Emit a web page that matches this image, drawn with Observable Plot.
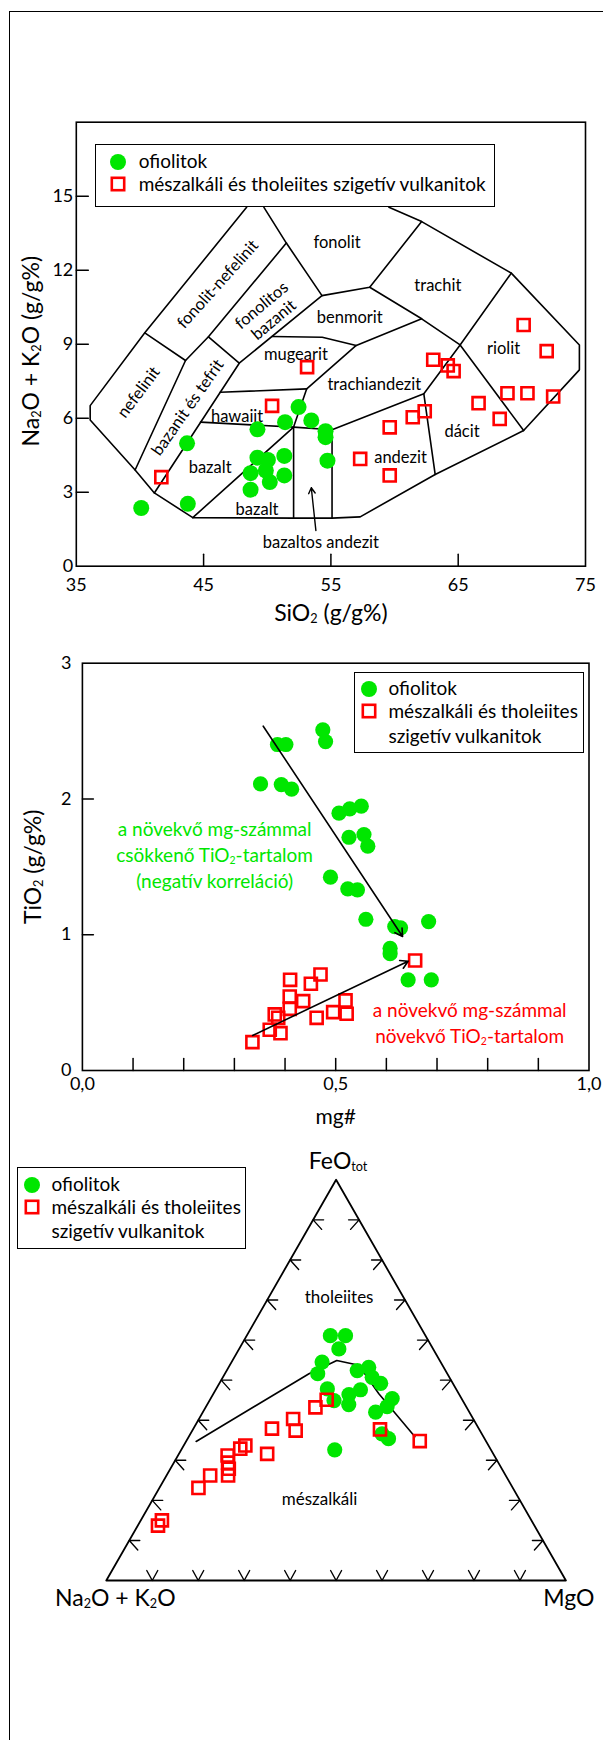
<!DOCTYPE html>
<html><head><meta charset="utf-8">
<script src="https://cdn.jsdelivr.net/npm/d3@7"></script>
<script src="https://cdn.jsdelivr.net/npm/@observablehq/plot@0.6"></script>
<style>
body{margin:0;background:#fff;font-family:Lato,"Open Sans",sans-serif;}
#page{position:relative;width:603px;height:1740px;overflow:hidden;background:#fff;}
#frame{position:absolute;left:9px;top:11px;width:640px;height:1760px;border-top:1.5px solid #000;border-left:1.5px solid #000;}
.panel{position:absolute;left:0;}
.legend{position:absolute;background:#fff;border:1.5px solid #000;box-sizing:border-box;font-size:19px;color:#000;}
.legend .t{position:absolute;white-space:nowrap;line-height:20px;height:20px;}
.legend svg{position:absolute;}
</style></head><body><div id="page"><div id="frame"></div></div>
<script>
// ================= DATA =================
// Panel 1 – TAS diagram (SiO2 vs Na2O+K2O)
const tasGreenSiO2 = [40.1, 43.76, 43.7, 49.23, 51.4, 52.46, 53.46, 54.58, 54.58, 54.73, 49.23, 50.05, 51.34, 48.69, 49.89, 50.2, 51.34, 48.69];
const tasGreenAlk  = [2.36, 2.53, 4.98, 5.55, 5.84, 6.45, 5.91, 5.47, 5.23, 4.28, 4.40, 4.31, 4.47, 3.77, 3.88, 3.41, 3.68, 3.10];
const tasRedSiO2 = [53.13, 63.04, 64.18, 64.64, 70.14, 71.95, 68.87, 70.44, 72.46, 66.6, 50.38, 68.26, 61.43, 62.37, 59.62, 57.3, 59.62, 41.68];
const tasRedAlk  = [8.07, 8.37, 8.14, 7.91, 9.78, 8.72, 7.01, 7.01, 6.88, 6.61, 6.5, 5.97, 6.04, 6.28, 5.63, 4.35, 3.68, 3.61];

const tasOuter = [[48.38,14.55],[40.38,9.46],[36.09,6.51],[36.09,5.93],[39.62,3.90],[41.13,2.97],[44.15,1.97],[52.07,1.95],[55.09,1.95],[57.3,2.0],[63.19,3.72],[70.14,5.5],[74.52,7.96],[74.52,8.97],[69.17,11.88],[62.13,13.97],[59.56,14.55]];
const tasNefelinitTop = [[40.38,9.46],[43.58,8.34]];
const tasNefelinitRight = [[39.62,3.90],[43.58,8.34],[45.38,9.3],[51.5,13.1]];
const tasFonolitLeft = [[49.74,14.55],[51.5,13.1],[54.3,10.97]];
const tasFonBazanitBottom = [[45.38,9.3],[47.8,8.23]];
const tasBazanitRight = [[41.13,2.97],[47.8,8.23],[54.3,10.97],[58.05,11.31],[62.13,13.97]];
const tasTrachitBottom = [[58.05,11.31],[62.13,10.03],[65.15,8.97]];
const tasRiolitTop = [[65.15,8.97],[69.17,11.88]];
const tasRiolitDacit = [[65.15,8.97],[70.14,5.5]];
const tasDacitLeft = [[65.15,8.97],[62.3,6.99],[63.19,3.72]];
const tasAndezitTop = [[55.09,5.53],[62.3,6.99]];
const tasTrachiandezitLeft = [[62.13,10.03],[56.99,8.95],[53.1,7.19],[52.07,5.64]];
const tasBenmoritBottom = [[50.38,9.31],[54.32,9.28],[56.99,8.95]];
const tasHawaiitTop = [[46.3,7.05],[53.1,7.19]];
const tasHawaiitBottom = [[44.76,5.84],[52.07,5.64],[55.09,5.53]];
const tasBazaltDiagonal = [[44.15,1.97],[52.07,5.64]];
const tasBazAndLeft = [[52.07,5.64],[52.07,1.95]];
const tasBazAndRight = [[55.09,5.53],[55.09,1.95]];

const tasFieldNames = ["nefelinit","bazanit és tefrit","fonolit-nefelinit","fonolitos\nbazanit","fonolit","trachit","benmorit","mugearit","trachiandezit","riolit","hawaiit","bazalt","bazalt","dácit","andezit","bazaltos andezit"];
const tasFieldSiO2 = [39.85, 43.71, 46.07, 50.0, 55.48, 63.4, 56.48, 52.25, 58.41, 68.56, 47.63, 45.51, 49.2, 65.3, 60.47, 54.21];
const tasFieldAlk  = [7.07, 6.45, 11.45, 10.3, 13.14, 11.42, 10.1, 8.61, 7.39, 8.84, 6.08, 4.01, 2.32, 5.5, 4.42, 1.0];
const tasFieldAngle = [-53, -55, -48, -40, 0, 0, 0, 0, 0, 0, 0, 0, 0, 0, 0, 0];
const tasArrow = {x1: 53.82, y1: 1.45, x2: 53.46, y2: 3.18};

const tasXTickLabels = [35, 45, 55, 65, 75];
const tasXTicks = [45, 55, 65];
const tasYTickLabels = [0, 3, 6, 9, 12, 15];
const tasYTicks = [3, 6, 9, 12, 15];
const tasXLabel = "SiO₂ (g/g%)";
const tasYLabel = "Na₂O + K₂O (g/g%)";

// Panel 2 – mg# vs TiO2
const mgGreen = [0.4746,0.480,0.385,0.4017,0.3516,0.3926,0.413,0.5065,0.5277,0.5505,0.5262,0.5558,0.5634,0.4897,0.5239,0.5429,0.5596,0.6166,0.628,0.6834,0.6074,0.6074,0.643,0.6887];
const tiGreen = [2.509,2.423,2.401,2.401,2.111,2.106,2.072,1.895,1.927,1.947,1.718,1.738,1.652,1.424,1.338,1.331,1.114,1.060,1.051,1.097,0.90,0.86,0.668,0.668];
const mgRed = [0.3356,0.3698,0.391,0.3797,0.3865,0.410,0.4093,0.4093,0.4358,0.451,0.470,0.4624,0.495,0.5194,0.5216,0.6568];
const tiRed = [0.209,0.300,0.275,0.413,0.388,0.668,0.545,0.454,0.511,0.639,0.707,0.388,0.430,0.516,0.418,0.810];
const mgArrows = [
  {x1: 0.357, y1: 2.536, x2: 0.632, y2: 0.987},
  {x1: 0.336, y1: 0.258, x2: 0.643, y2: 0.805}
];
const mgNotes = ["a növekvő mg-számmal\ncsökkenő TiO₂-tartalom\n(negatív korreláció)", "a növekvő mg-számmal\nnövekvő TiO₂-tartalom"];
const mgNoteX = [0.261, 0.7645];
const mgNoteY = [1.596, 0.358];
const mgXTickLabels = [0, 0.5, 1];
const mgXTicks = [0.1, 0.2, 0.3, 0.4, 0.5, 0.6, 0.7, 0.8, 0.9];
const mgYTickLabels = [0, 1, 2, 3];
const mgYTicks = [1, 2];
const mgXLabel = "mg#";
const mgYLabel = "TiO₂ (g/g%)";

// Panel 3 – AFM ternary (A = Na2O+K2O, F = FeOtot, M = MgO), %
const afmGreenA = [20.7,17.4,20.5,25.8,28.2,19.2,16.3,16.8,15.7,20.9,24.0,28.0,28.0,25.3,15.1,17.2,20.4,21.7,20.9,34.0];
const afmGreenF = [61.1,61.1,57.8,54.5,51.6,52.4,53.2,50.7,49.2,47.6,46.4,47.8,44.9,43.9,45.4,43.4,42.0,36.6,35.4,32.6];
const afmGreenM = [18.2,21.5,21.7,19.7,20.2,28.4,30.5,32.5,35.1,31.5,29.6,24.2,27.1,30.8,39.5,39.4,37.6,41.7,43.7,33.4];
const afmRedA = [29.5,32.9,39.2,40.1,45.0,49.2,52.9,54.4,21.6,14.4,58.0,58.8,59.4,60.4,64.3,68.4,80.4,81.9];
const afmRedF = [45.1,43.2,40.3,37.4,37.9,31.6,33.7,32.9,37.7,34.8,31.2,29.4,27.9,26.2,26.2,23.1,15.0,13.7];
const afmRedM = [25.4,23.9,20.5,22.5,17.1,19.2,13.4,12.7,40.7,50.8,10.8,11.8,12.7,13.4,9.5,8.5,4.6,4.4];
const afmBoundaryA = [63.1,30.1,22.4,18.2,17.4,14.9];
const afmBoundaryF = [34.7,51.6,54.9,53.7,46.6,35.9];
const afmBoundaryM = [2.2,18.3,22.7,28.1,36.0,49.2];
const afmCornerNames = ["Na₂O + K₂O", "FeO_tot", "MgO"];
const afmCornerA = [100, 0, 0];
const afmCornerF = [0, 100, 0];
const afmCornerM = [0, 0, 100];
const afmFieldNames = ["tholeiites", "mészalkáli"];
const afmFieldF = [70.7, 20.2];
const afmFieldM = [15.3, 36.3];
const afmTicks = [10, 20, 30, 40, 50, 60, 70, 80, 90];

const legendLabels = ["ofiolitok", "mészalkáli és tholeiites szigetív vulkanitok"];
const legendLines2 = ["mészalkáli és tholeiites", "szigetív vulkanitok"];

// ================= STYLE =================
const GREEN = "#00e600", RED = "#ff0000", INK = "#000";
const FONT = "Lato, 'Open Sans', sans-serif";
const lineShape = {draw(c, l) { c.moveTo(0, 0); c.lineTo(0, -l); }};
const vShape = {draw(c) { c.moveTo(-5.5, -10); c.lineTo(0, 0); c.lineTo(5.5, -10); }};
const leftShape = {draw(c) { c.moveTo(10.5, 0); c.lineTo(0, 0); c.lineTo(8.5, 9.5); }};
const rightShape = {draw(c) { c.moveTo(-10.5, 0); c.lineTo(0, 0); c.lineTo(-8.5, 9.5); }};

const page = document.getElementById("page");
function place(svg, top) {
  const d = document.createElement("div");
  d.className = "panel"; d.style.top = top + "px";
  d.appendChild(svg); page.appendChild(d);
}
const pts = (xs, ys) => xs.map((x, i) => ({x, y: ys[i]}));

// ================= PANEL 1 =================
const tasLines = [tasOuter, tasNefelinitTop, tasNefelinitRight, tasFonolitLeft, tasFonBazanitBottom, tasBazanitRight,
  tasTrachitBottom, tasRiolitTop, tasRiolitDacit, tasDacitLeft, tasAndezitTop, tasTrachiandezitLeft, tasBenmoritBottom,
  tasHawaiitTop, tasHawaiitBottom, tasBazaltDiagonal, tasBazAndLeft, tasBazAndRight];
const tasLineRows = tasLines.flatMap((ln, k) => ln.map(([x, y]) => ({x, y, k})));
const tasFields = tasFieldNames.map((t, i) => ({t, x: tasFieldSiO2[i], y: tasFieldAlk[i], a: tasFieldAngle[i]}));

const p1 = Plot.plot({
  width: 603, height: 540,
  marginTop: 21.7, marginBottom: 74.3, marginLeft: 75.8, marginRight: 18,
  style: {fontFamily: FONT, background: "transparent", overflow: "visible", color: INK},
  x: {domain: [35, 75]}, y: {domain: [0, 18]},
  marks: [
    Plot.line(tasLineRows, {x: "x", y: "y", z: "k", stroke: INK, strokeWidth: 1.6}),
    Plot.text(tasFields, {x: "x", y: "y", text: "t", rotate: "a", fontSize: 16.5, fill: INK, lineHeight: 1.15}),
    Plot.arrow([tasArrow], {x1: "x1", y1: "y1", x2: "x2", y2: "y2", stroke: INK, strokeWidth: 1.4, headLength: 7}),
    Plot.dot(pts(tasGreenSiO2, tasGreenAlk), {x: "x", y: "y", r: 8, fill: GREEN}),
    Plot.dot(pts(tasRedSiO2, tasRedAlk), {x: "x", y: "y", r: 6.8, symbol: "square", stroke: RED, strokeWidth: 2.6, fill: "none"}),
    Plot.frame({stroke: INK, strokeWidth: 1.6}),
    Plot.vector(tasXTicks, {x: d => d, frameAnchor: "bottom", anchor: "start", rotate: 0, length: 12, shape: lineShape, stroke: INK, strokeWidth: 1.5}),
    Plot.vector(tasYTicks, {y: d => d, frameAnchor: "left", anchor: "start", rotate: 90, length: 12, shape: lineShape, stroke: INK, strokeWidth: 1.5}),
    Plot.axisX({ticks: tasXTickLabels, tickSize: 0, tickPadding: 12, fontSize: 18, label: null}),
    Plot.axisY({ticks: tasYTickLabels, tickSize: 0, tickPadding: 3, fontSize: 18, label: null}),
    Plot.text([tasXLabel], {frameAnchor: "bottom", dy: 47, text: d => d, fontSize: 23, textAnchor: "middle", lineAnchor: "middle", fill: INK}),
    Plot.text([tasYLabel], {frameAnchor: "left", dx: -45, dy: 7, rotate: -90, text: d => d, fontSize: 23, textAnchor: "middle", lineAnchor: "middle", fill: INK})
  ]
});
place(p1, 100);

// ================= PANEL 2 =================
const p2 = Plot.plot({
  width: 603, height: 500,
  marginTop: 22.7, marginBottom: 70, marginLeft: 81.9, marginRight: 14.5,
  style: {fontFamily: FONT, background: "transparent", overflow: "visible", color: INK},
  x: {domain: [0, 1]}, y: {domain: [0, 3]},
  marks: [
    Plot.text(mgNotes.map((t, i) => ({t, x: mgNoteX[i], y: mgNoteY[i], c: i})), {x: "x", y: "y", text: "t", fontSize: 19, lineHeight: 1.36, fill: d => d.c === 0 ? GREEN : RED}),
    Plot.dot(pts(mgGreen, tiGreen), {x: "x", y: "y", r: 7.6, fill: GREEN}),
    Plot.dot(pts(mgRed, tiRed), {x: "x", y: "y", r: 6.8, symbol: "square", stroke: RED, strokeWidth: 2.6, fill: "none"}),
    Plot.arrow(mgArrows, {x1: "x1", y1: "y1", x2: "x2", y2: "y2", stroke: INK, strokeWidth: 1.6, headLength: 8}),
    Plot.frame({stroke: INK, strokeWidth: 1.6}),
    Plot.vector(mgXTicks, {x: d => d, frameAnchor: "bottom", anchor: "start", rotate: 0, length: 12, shape: lineShape, stroke: INK, strokeWidth: 1.5}),
    Plot.vector(mgYTicks, {y: d => d, frameAnchor: "left", anchor: "start", rotate: 90, length: 11, shape: lineShape, stroke: INK, strokeWidth: 1.5}),
    Plot.axisX({ticks: mgXTickLabels, tickSize: 0, tickPadding: 7, fontSize: 18, label: null, tickFormat: d => d.toFixed(1).replace(".", ",")}),
    Plot.axisY({ticks: mgYTickLabels, tickSize: 0, tickPadding: 11, fontSize: 18, label: null, tickFormat: d => String(d)}),
    Plot.text([mgXLabel], {frameAnchor: "bottom", dy: 47, text: d => d, fontSize: 21, textAnchor: "middle", lineAnchor: "middle", fill: INK}),
    Plot.text([mgYLabel], {frameAnchor: "left", dx: -49, rotate: -90, text: d => d, fontSize: 23, textAnchor: "middle", lineAnchor: "middle", fill: INK})
  ]
});
place(p2, 640);

// ================= PANEL 3 (ternary) =================
const tern = (A, F, M) => ({x: (M + F / 2) / 100, y: F / 100});
const triRows = [0, 1, 2, 0].map(i => tern(afmCornerA[i], afmCornerF[i], afmCornerM[i]));
const cornerRows = afmCornerNames.map((n, i) => ({n, ...tern(afmCornerA[i], afmCornerF[i], afmCornerM[i])}));
const cornerDx = [9, 2, 3], cornerDy = [18, -18, 18];
const p3 = Plot.plot({
  width: 603, height: 480,
  marginTop: 39.3, marginBottom: 40, marginLeft: 105.8, marginRight: 37.6,
  style: {fontFamily: FONT, background: "transparent", overflow: "visible", color: INK},
  x: {domain: [0, 1], axis: null}, y: {domain: [0, 1], axis: null},
  marks: [
    Plot.line(triRows, {x: "x", y: "y", stroke: INK, strokeWidth: 1.8}),
    Plot.vector(afmTicks.map(t => tern(100 - t, 0, t)), {x: "x", y: "y", anchor: "start", length: 10, shape: vShape, stroke: INK, strokeWidth: 1.4}),
    Plot.vector(afmTicks.map(t => tern(100 - t, t, 0)), {x: "x", y: "y", anchor: "start", length: 10, shape: leftShape, stroke: INK, strokeWidth: 1.4}),
    Plot.vector(afmTicks.map(t => tern(0, t, 100 - t)), {x: "x", y: "y", anchor: "start", length: 10, shape: rightShape, stroke: INK, strokeWidth: 1.4}),
    Plot.line(afmBoundaryA.map((a, i) => tern(a, afmBoundaryF[i], afmBoundaryM[i])), {x: "x", y: "y", stroke: INK, strokeWidth: 1.6}),
    Plot.text(afmFieldNames.map((n, i) => ({n, ...tern(100 - afmFieldF[i] - afmFieldM[i], afmFieldF[i], afmFieldM[i])})), {x: "x", y: "y", text: "n", fontSize: 17, fill: INK}),
    Plot.dot(afmGreenA.map((a, i) => tern(a, afmGreenF[i], afmGreenM[i])), {x: "x", y: "y", r: 7.6, fill: GREEN}),
    Plot.dot(afmRedA.map((a, i) => tern(a, afmRedF[i], afmRedM[i])), {x: "x", y: "y", r: 6.8, symbol: "square", stroke: RED, strokeWidth: 2.6, fill: "none"}),
    ...cornerRows.map((c, i) => Plot.text([c], {x: "x", y: "y", text: "n", fontSize: 23, fill: INK, dx: cornerDx[i], dy: cornerDy[i]}))
  ]
});
place(p3, 1140);

// ================= SUBSCRIPTS =================
function subscripts(root) {
  root.querySelectorAll("text, tspan").forEach(el => {
    if ([...el.childNodes].some(n => n.nodeType === 1)) return;
    const s = el.textContent;
    if (!/₂|_tot/.test(s)) return;
    el.textContent = "";
    for (const p of s.split(/(₂|_tot)/)) {
      if (!p) continue;
      const t = document.createElementNS("http://www.w3.org/2000/svg", "tspan");
      if (p === "₂" || p === "_tot") {
        t.textContent = p === "₂" ? "2" : "tot";
        t.setAttribute("font-size", "0.55em");
        t.setAttribute("baseline-shift", "-18%");
      } else t.textContent = p;
      el.appendChild(t);
    }
  });
}
[p1, p2, p3].forEach(subscripts);

// ================= LEGENDS =================
function legend(box, rows) {
  const d = document.createElement("div");
  d.className = "legend";
  Object.assign(d.style, {left: box[0] + "px", top: box[1] + "px", width: box[2] + "px", height: box[3] + "px"});
  for (const r of rows) {
    if (r.sym) {
      const s = document.createElementNS("http://www.w3.org/2000/svg", "svg");
      s.setAttribute("width", 20); s.setAttribute("height", 20);
      s.style.left = (r.sx - 10 - 1.5) + "px"; s.style.top = (r.sy - 10 - 1.5) + "px";
      s.innerHTML = r.sym === "circle"
        ? `<circle cx="10" cy="10" r="8" fill="${GREEN}"/>`
        : `<rect x="3.8" y="3.8" width="12.4" height="12.4" fill="none" stroke="${RED}" stroke-width="2.6"/>`;
      d.appendChild(s);
    }
    if (r.text) {
      const t = document.createElement("div");
      t.className = "t"; t.textContent = r.text;
      t.style.left = (r.tx - 1.5) + "px"; t.style.top = (r.ty - 10 - 1.5) + "px";
      d.appendChild(t);
    }
  }
  page.appendChild(d);
}
legend([95, 144, 400, 63], [
  {sym: "circle", sx: 23.5, sy: 18.7, text: legendLabels[0], tx: 44.2, ty: 17.7},
  {sym: "square", sx: 23.5, sy: 40.3, text: legendLabels[1], tx: 44.2, ty: 40}
]);
legend([353.8, 671.7, 230, 81.6], [
  {sym: "circle", sx: 15.4, sy: 17.6, text: legendLabels[0], tx: 35.2, ty: 17.3},
  {sym: "square", sx: 15.4, sy: 40, text: legendLines2[0], tx: 35.2, ty: 40},
  {text: legendLines2[1], tx: 35.2, ty: 65}
]);
legend([17.3, 1167.3, 228.7, 82], [
  {sym: "circle", sx: 15.4, sy: 18.4, text: legendLabels[0], tx: 34.7, ty: 17.7},
  {sym: "square", sx: 15.4, sy: 40.4, text: legendLines2[0], tx: 34.7, ty: 40},
  {text: legendLines2[1], tx: 34.7, ty: 64.4}
]);
</script>
</body></html>
